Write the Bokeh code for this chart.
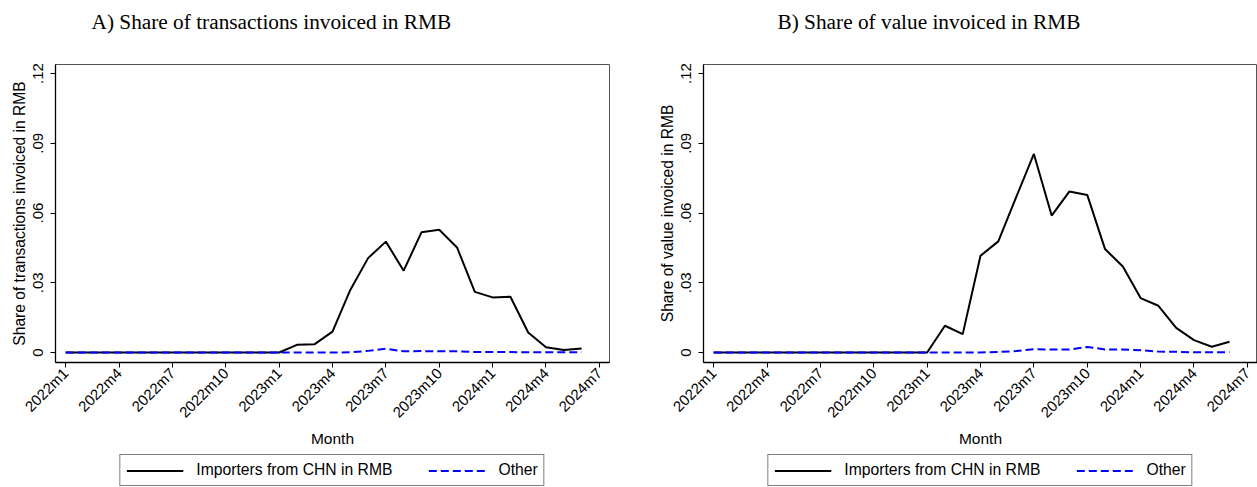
import math
from bokeh.plotting import figure
from bokeh.models import FixedTicker, Legend, LegendItem, Range1d, Title
from bokeh.layouts import row, column
from bokeh.embed import file_html
from bokeh.resources import INLINE

# ---------------- data ----------------
months = [
    "2022m1", "2022m2", "2022m3", "2022m4", "2022m5", "2022m6",
    "2022m7", "2022m8", "2022m9", "2022m10", "2022m11", "2022m12",
    "2023m1", "2023m2", "2023m3", "2023m4", "2023m5", "2023m6",
    "2023m7", "2023m8", "2023m9", "2023m10", "2023m11", "2023m12",
    "2024m1", "2024m2", "2024m3", "2024m4", "2024m5", "2024m6",
]

# Panel A: share of transactions invoiced in RMB
trans_rmb = [
    0, 0, 0, 0, 0, 0, 0, 0, 0, 0, 0, 0,
    0.0, 0.0033, 0.0036, 0.0090, 0.0269, 0.0406,
    0.0477, 0.0352, 0.0517, 0.0528, 0.0452, 0.0261,
    0.0237, 0.0240, 0.0086, 0.0023, 0.0011, 0.0017,
]
trans_other = [
    0, 0, 0, 0, 0, 0, 0, 0, 0, 0, 0, 0,
    0.0, 0.0, 0.0, 0.0, 0.0001, 0.0007,
    0.0016, 0.0005, 0.0006, 0.0005, 0.0005, 0.0002,
    0.0002, 0.0002, 0.0001, 0.0001, 0.0001, 0.0001,
]

# Panel B: share of value invoiced in RMB
value_rmb = [
    0, 0, 0, 0, 0, 0, 0, 0, 0, 0, 0, 0,
    0.0, 0.0115, 0.0079, 0.0416, 0.0478, 0.0667,
    0.0854, 0.0589, 0.0693, 0.0678, 0.0445, 0.0370,
    0.0234, 0.0201, 0.0106, 0.0053, 0.0025, 0.0046,
]
value_other = [
    0, 0, 0, 0, 0, 0, 0, 0, 0, 0, 0, 0,
    0.0, 0.0, 0.0, 0.0, 0.0002, 0.0006,
    0.0014, 0.0013, 0.0013, 0.0024, 0.0013, 0.0013,
    0.0010, 0.0004, 0.0003, 0.0001, 0.0001, 0.0001,
]

x_tick_labels = ["2022m1", "2022m4", "2022m7", "2022m10", "2023m1", "2023m4",
                 "2023m7", "2023m10", "2024m1", "2024m4", "2024m7"]
y_ticks = [0, 0.03, 0.06, 0.09, 0.12]
y_tick_labels = ["0", ".03", ".06", ".09", ".12"]

series_names = ["Importers from CHN in RMB", "Other"]
titles = ["A) Share of transactions invoiced in RMB", "B) Share of value invoiced in RMB"]
y_titles = ["Share of transactions invoiced in RMB", "Share of value invoiced in RMB"]


def month_index(label):
    y, m = label.split("m")
    return (int(y) - 2022) * 12 + int(m) - 1


x_idx = [month_index(m) for m in months]
x_tick_pos = [month_index(t) for t in x_tick_labels]

SANS = "Liberation Sans"
SERIF = "Liberation Serif"
X_RANGE = (-0.57, 30.57)
DASH = "8 4"


def make_panel(title, ytitle, rmb, other, width, mb_left, mb_right, title_offset):
    p = figure(
        width=width, height=453,
        x_range=Range1d(*X_RANGE), y_range=Range1d(-0.0043, 0.1239),
        output_backend="svg", toolbar_location=None,
        min_border_left=mb_left, min_border_right=mb_right,
        min_border_top=64, min_border_bottom=91,
        background_fill_color="white", border_fill_color="white",
    )
    p.grid.visible = False
    p.outline_line_color = "#555555"
    p.outline_line_width = 1

    # spacer between frame and title
    p.add_layout(Title(text=" ", text_font_size="14px", standoff=8), "above")

    p.title.text = title
    p.title.text_font = SERIF
    p.title.text_font_size = "21.3px"
    p.title.text_font_style = "normal"
    p.title.text_color = "black"
    p.title.align = "left"
    p.title.offset = title_offset
    p.title.standoff = 10

    xa = p.xaxis[0]
    xa.ticker = FixedTicker(ticks=x_tick_pos)
    xa.major_label_overrides = {pos: lab for pos, lab in zip(x_tick_pos, x_tick_labels)}
    xa.major_label_orientation = math.pi / 4
    xa.major_label_text_font = SANS
    xa.major_label_text_font_size = "15px"
    xa.major_label_text_color = "black"
    xa.major_label_standoff = 3
    xa.major_tick_out = 5
    xa.major_tick_in = 0
    xa.minor_tick_out = 0
    xa.minor_tick_in = 0
    xa.axis_line_color = "black"
    xa.axis_line_width = 1.3
    xa.major_tick_line_color = "black"
    xa.axis_label = "Month"
    xa.axis_label_text_font = SANS
    xa.axis_label_text_font_size = "15.5px"
    xa.axis_label_text_font_style = "normal"
    xa.axis_label_text_color = "black"
    xa.axis_label_standoff = 0

    ya = p.yaxis[0]
    ya.ticker = FixedTicker(ticks=y_ticks)
    ya.major_label_overrides = {t: lab for t, lab in zip(y_ticks, y_tick_labels)}
    ya.major_label_orientation = "parallel"
    ya.major_label_text_font = SANS
    ya.major_label_text_font_size = "15px"
    ya.major_label_text_color = "black"
    ya.major_label_standoff = 7
    ya.major_tick_out = 5
    ya.major_tick_in = 0
    ya.minor_tick_out = 0
    ya.minor_tick_in = 0
    ya.axis_line_color = "black"
    ya.axis_line_width = 1.3
    ya.major_tick_line_color = "black"
    ya.axis_label = ytitle
    ya.axis_label_text_font = SANS
    ya.axis_label_text_font_size = "15.6px"
    ya.axis_label_text_font_style = "normal"
    ya.axis_label_text_color = "black"
    ya.axis_label_standoff = 3

    p.line(x_idx, rmb, line_color="black", line_width=2)
    p.line(x_idx, other, line_color="blue", line_width=2, line_dash=DASH)
    return p


def make_legend_fig(rmb, other, width, mb_left, mb_right):
    # separate strip below each panel carrying that panel's legend
    q = figure(
        width=width, height=34,
        x_range=Range1d(*X_RANGE), y_range=Range1d(1, 2),
        output_backend="svg", toolbar_location=None,
        x_axis_location=None, y_axis_location=None,
        min_border_left=mb_left, min_border_right=mb_right,
        min_border_top=0, min_border_bottom=0,
        background_fill_color="white", border_fill_color="white",
    )
    q.grid.visible = False
    q.outline_line_color = None
    r1 = q.line(x_idx, rmb, line_color="black", line_width=2)
    r2 = q.line(x_idx, other, line_color="blue", line_width=2, line_dash=DASH)
    legend = Legend(
        items=[LegendItem(label=series_names[0], renderers=[r1]),
               LegendItem(label=series_names[1], renderers=[r2])],
        orientation="horizontal",
        location="center",
        border_line_color="black", border_line_width=1,
        background_fill_color="white", background_fill_alpha=1,
        label_text_font=SANS, label_text_font_size="15.7px", label_text_color="black",
        glyph_width=57, glyph_height=15, label_height=15,
        label_standoff=13, spacing=36, padding=6, margin=0,
    )
    q.add_layout(legend, "center")
    return q


pA = make_panel(titles[0], y_titles[0], trans_rmb, trans_other, 648, 55, 39, 36)
pB = make_panel(titles[1], y_titles[1], value_rmb, value_other, 609, 55, 0, 74)
lA = make_legend_fig(trans_rmb, trans_other, 648, 55, 39)
lB = make_legend_fig(value_rmb, value_other, 609, 55, 0)

layout = column(row(pA, pB), row(lA, lB))
open("out.html", "w").write(file_html(layout, INLINE))
